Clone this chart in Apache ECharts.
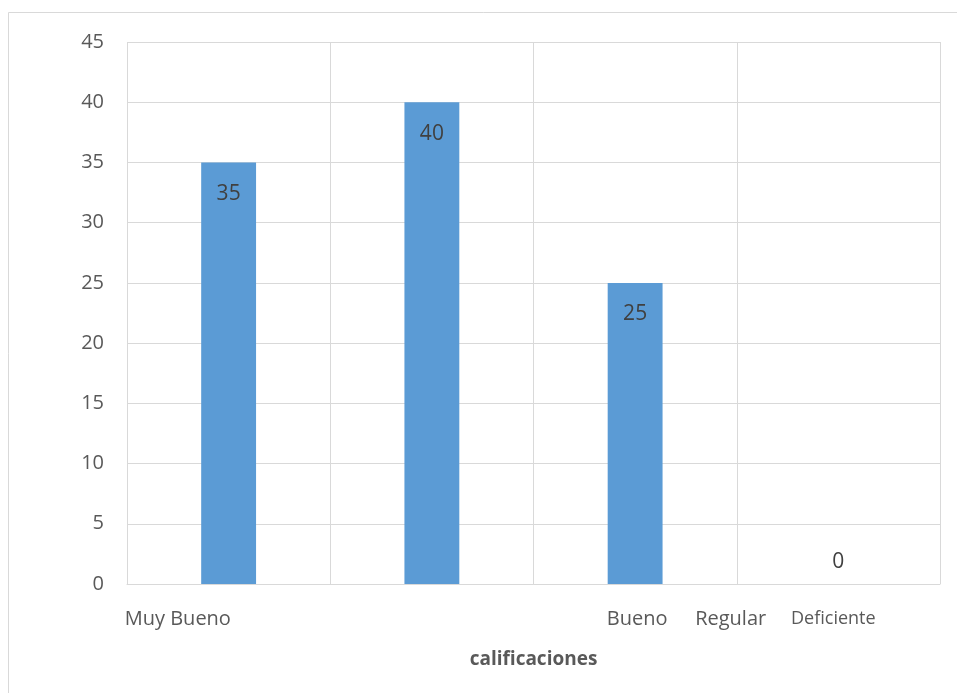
<!DOCTYPE html>
<html>
<head>
<meta charset="utf-8">
<script src="https://cdn.jsdelivr.net/npm/echarts@6/dist/echarts.min.js"></script>
<style>
  html, body { margin: 0; padding: 0; background: #fff; }
  #chart { width: 957px; height: 693px; }
</style>
</head>
<body>
<div id="chart"></div>
<script>
// Calificaciones: número de respuestas por categoría
const categories = ['Muy Bueno', 'Bueno', 'Regular', 'Deficiente'];
const values = [35, 40, 25, 0];
const yTicks = [0, 5, 10, 15, 20, 25, 30, 35, 40, 45];
const axisTitle = 'calificaciones';

// Placement of each category caption along the axis: band index + shift in band widths
const captionLayout = [
  { band: 0, shift: -0.25, size: 20 },
  { band: 2, shift: 0.01, size: 20 },
  { band: 2, shift: 0.47, size: 20 },
  { band: 3, shift: -0.025, size: 18 }
];

const FONT = '"Open Sans", "Noto Sans", sans-serif';
const chart = echarts.init(document.getElementById('chart'), null, { renderer: 'canvas' });

chart.setOption({
  backgroundColor: '#ffffff',
  animation: false,
  grid: { left: 127, right: 17, top: 42, bottom: 109, containLabel: false },
  xAxis: {
    type: 'category',
    data: categories,
    boundaryGap: true,
    name: axisTitle,
    nameLocation: 'middle',
    nameGap: 66,
    nameTextStyle: { fontFamily: FONT, fontSize: 19, fontWeight: 'bold', color: '#595959' },
    axisLine: { show: true, lineStyle: { color: '#d9d9d9', width: 1 } },
    axisTick: { show: false },
    axisLabel: { show: false },
    splitLine: { show: true, lineStyle: { color: '#d9d9d9', width: 1 } }
  },
  yAxis: {
    type: 'value',
    min: yTicks[0],
    max: yTicks[yTicks.length - 1],
    interval: yTicks[1] - yTicks[0],
    axisLine: { show: false },
    axisTick: { show: false },
    axisLabel: { fontFamily: FONT, fontSize: 20, color: '#595959', margin: 23 },
    splitLine: { show: true, lineStyle: { color: '#d9d9d9', width: 1 } }
  },
  series: [{
    type: 'bar',
    data: values.map(v => (v === 0
      ? { value: v, label: { position: 'top', distance: 11 } }
      : { value: v })),
    barWidth: '27%',
    itemStyle: { color: '#5b9bd5' },
    label: {
      show: true,
      position: 'insideTop',
      distance: 21,
      fontFamily: FONT,
      fontSize: 21,
      color: '#404040'
    }
  }]
});

// Category captions positioned from the axis scale
function drawCaptions() {
  const c0 = chart.convertToPixel({ xAxisIndex: 0 }, categories[0]);
  const c1 = chart.convertToPixel({ xAxisIndex: 0 }, categories[1]);
  const bandW = c1 - c0;
  const base = chart.convertToPixel({ yAxisIndex: 0 }, yTicks[0]);
  const texts = categories.map((name, i) => {
    const lay = captionLayout[i];
    const cx = chart.convertToPixel({ xAxisIndex: 0 }, categories[lay.band]) + lay.shift * bandW;
    return {
      type: 'text',
      x: cx,
      y: base + 35,
      style: {
        text: name,
        fontFamily: FONT,
        fontSize: lay.size,
        fill: '#595959',
        align: 'center',
        verticalAlign: 'middle'
      }
    };
  });
  chart.setOption({
    graphic: [
      {
        type: 'rect',
        shape: { x: 8.5, y: 12.5, width: 1200, height: 1200 },
        style: { fill: 'none', stroke: '#d9d9d9', lineWidth: 1 },
        silent: true
      }
    ].concat(texts)
  });
}
drawCaptions();
</script>
</body>
</html>
